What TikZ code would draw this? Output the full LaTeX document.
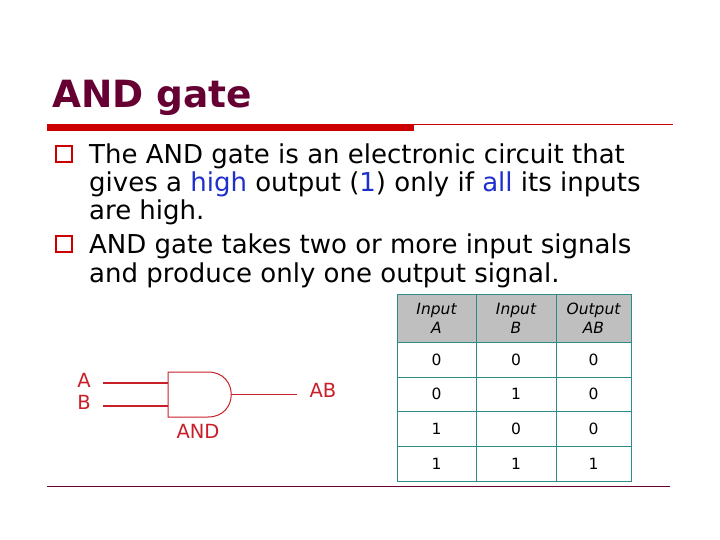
\documentclass[tikz,border=0pt]{standalone}
\usepackage{fontspec}
\setmainfont{DejaVu Sans}
\begin{document}
\begin{tikzpicture}[x=1pt,y=-1pt,
  txt/.style={anchor=base west,inner sep=0,font=\fontsize{26}{26}\selectfont},
  cell/.style={inner sep=0,font=\fontsize{15.5}{19}\selectfont,align=center},
  red/.style={text=gatered},
  lab/.style={red,inner sep=0,font=\fontsize{19.5}{20}\selectfont},
  wire/.style={draw=gatered,line width=1.3pt}]
\definecolor{titlec}{HTML}{660033}
\definecolor{barred}{HTML}{CC0000}
\definecolor{gatered}{HTML}{C8202A}
\definecolor{teal}{HTML}{2E8B8B}
\definecolor{hl}{HTML}{1F2FCC}
\useasboundingbox[fill=white] (0,0) rectangle (720,540);
\node[anchor=base west,inner sep=0,text=titlec,font=\bfseries\fontsize{37.5}{37.5}\selectfont] (title) at (52,108) {AND gate};
\fill[barred] (47,124) rectangle (414,131);
\draw[barred,line width=0.5pt] (414,124) -- (673,124);
\foreach \y in {164,254}{\draw[barred,line width=1.2pt] (56,\y-18) rectangle (72,\y-2);}
\node[txt] (l1) at (89,164) {The AND gate is an electronic circuit that};
\node[txt] (l2) at (89,192) {gives a \textcolor{hl}{high} output (\textcolor{hl}{1}) only if \textcolor{hl}{all} its inputs};
\node[txt] (l3) at (89,220) {are high.};
\node[txt] (l4) at (89,254) {AND gate takes two or more input signals};
\node[txt] (l5) at (89,282) {and produce only one output signal.};
% table
\fill[black!25] (397,294) rectangle (631,342);
\draw[teal,line width=0.8pt] (397,294) rectangle (631,481);
\foreach \x in {476,556} \draw[teal,line width=0.8pt] (\x,294) -- (\x,481);
\foreach \y in {342,377,411,446} \draw[teal,line width=0.8pt] (397,\y) -- (631,\y);
\node[cell] (h1) at (436.5,318) {\itshape Input\\\itshape A};
\node[cell] (h2) at (516,318) {\itshape Input\\\itshape B};
\node[cell] (h3) at (593.5,318) {\itshape Output\\\itshape AB};
\foreach \a/\b/\c [count=\i] in {0/0/0,0/1/0,1/0/0,1/1/1}{
  \pgfmathsetmacro{\yy}{342+(\i-1)*34.75+17.5}
  \node[cell] at (436.5,\yy) {\a};
  \node[cell] at (516,\yy) {\b};
  \node[cell] at (593.5,\yy) {\c};
}
% gate
\node[lab] (A) at (84,380) {A};
\node[lab] (B) at (84,402) {B};
\node[lab] (AB) at (323,390) {AB};
\node[lab] (ANDl) at (198,431) {AND};
\coordinate (ia) at (168,383); \coordinate (ib) at (168,406);
\coordinate (out) at (231,394.5); \coordinate (oe) at (297,394.5);
\draw[wire] (103,383) -- (ia);
\draw[wire] (103,406) -- (ib);
\draw[gatered,line width=1pt] (208,372) -- (168,372) -- (168,417) -- (208,417) .. controls (239,417) and (239,372) .. (208,372);
\draw[gatered,line width=1pt] (out) -- (oe);
\draw[titlec,line width=0.8pt] (47,486) -- (670,486);
\end{tikzpicture}
\end{document}
